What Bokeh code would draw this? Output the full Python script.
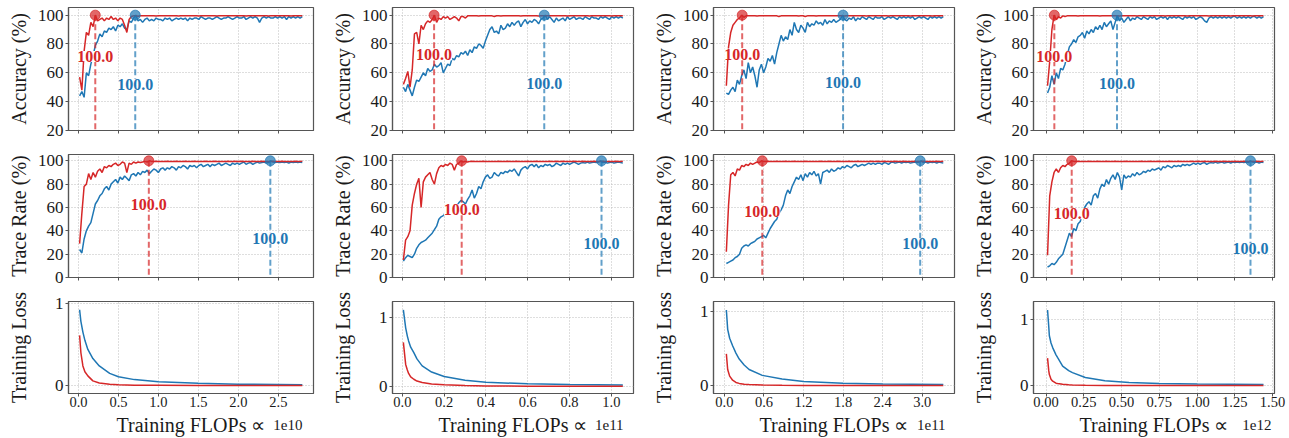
import numpy as np
from bokeh.plotting import figure
from bokeh.layouts import gridplot
from bokeh.models import Label, FixedTicker, Range1d, CustomJSTickFormatter
from bokeh.core.properties import value
from bokeh.embed import file_html
from bokeh.resources import INLINE

# ---------------------------------------------------------------- data
# evaluation grid (training FLOPs, in units of the column's exponent)
flops_start = [0.014, 0.005, 0.03, 0.01]
flops_end = [2.80, 1.055, 3.32, 1.44]
flops_exponent = ["1e10", "1e11", "1e11", "1e12"]
x_ticks = [[0, 0.5, 1.0, 1.5, 2.0, 2.5],
           [0, 0.2, 0.4, 0.6, 0.8, 1.0],
           [0, 0.6, 1.2, 1.8, 2.4, 3.0],
           [0, 0.25, 0.5, 0.75, 1.0, 1.25, 1.5]]
x_tick_decimals = [1, 1, 1, 2]
acc_ticks = [20, 40, 60, 80, 100]
trace_ticks = [0, 20, 40, 60, 80, 100]
loss_ticks = [0, 1]
row_titles = ["Accuracy (%)", "Trace Rate (%)", "Training Loss"]
x_title = "Training FLOPs \u221d"

# ---- accuracy (%)
acc_red_1 = [57, 48, 75, 88, 86, 95, 92, 100, 96, 97,
             98, 96, 98, 97, 99, 97, 98, 96, 98, 97,
             93, 88, 97, 99, 99.5, 99.5, 99.3, 99.5, 99.6, 99.5,
             99.5, 99.6, 99.5, 99.5, 99.4, 99.5, 99.6, 99.5, 99.5, 99.5,
             99.5, 99.5, 99.6, 99.5, 99.4, 99.5, 99.5, 99.6, 99.5, 99.5,
             99.6, 99.5, 99.5, 99.4, 99.5, 99.6, 99.5, 99.5, 99.5, 99.6,
             99.5, 99.4, 99.5, 99.6, 99.5, 99.5, 99.5, 99.6, 99.5, 99.5,
             99.5, 99.6, 99.5, 99.5, 99.4, 99.5, 99.6, 99.5, 99.5, 99.5,
             99.6, 99.5, 99.5, 99.5, 99.4, 99.5, 99.6, 99.5, 99.5, 99.6,
             99.5, 99.5, 99.6, 99.5, 99.4, 99.5, 99.5, 99.6, 99.5, 99.5]
acc_blue_1 = [44, 47, 43, 60, 58, 66, 72, 79, 82, 87,
              85, 89, 88, 91, 90, 92, 89, 93, 92, 94,
              91, 90, 96, 95, 98, 100, 96, 97, 95, 97,
              98, 96, 97, 96, 98, 97, 97, 96, 98, 97,
              98, 96, 97, 98, 97, 98, 97, 98, 96, 98,
              97, 98, 98, 97, 99, 98, 97, 98, 98, 97,
              98, 99, 98, 97, 98, 98, 99, 98, 97, 98,
              99, 98, 98, 99, 97, 98, 99, 98, 99, 98,
              95, 98, 99, 98, 99, 98, 98, 99, 98, 99,
              98, 99, 97, 99, 98, 99, 98, 99, 98, 99]
acc_red_2 = [52, 56, 61, 50, 62, 87, 88, 80, 93, 90,
             94, 96, 95, 97, 100, 95, 98, 97, 99, 98,
             99, 97, 98, 99, 98, 96, 99, 99, 98, 99.5,
             99.5, 99.6, 99.5, 99.5, 99.4, 99.5, 99.6, 99.5, 99.5, 99.5,
             99.5, 99.0, 99.6, 99.5, 99.4, 99.5, 99.5, 99.6, 99.5, 99.5,
             99.6, 99.5, 99.5, 99.4, 99.5, 99.6, 99.5, 99.5, 99.5, 99.6,
             99.5, 99.4, 99.5, 99.6, 99.5, 99.5, 99.5, 99.6, 99.5, 99.5,
             99.5, 99.6, 99.5, 99.5, 99.4, 99.5, 99.6, 99.5, 99.5, 99.5,
             99.6, 99.5, 99.5, 99.5, 99.4, 99.5, 99.6, 99.5, 99.5, 99.6,
             99.5, 99.5, 99.6, 99.5, 99.4, 99.5, 99.5, 99.6, 99.5, 99.5]
acc_blue_2 = [50, 47, 52, 48, 44, 50, 55, 54, 57, 60,
              58, 63, 61, 62, 66, 64, 65, 67, 60, 63,
              66, 65, 70, 69, 72, 71, 74, 73, 75, 72,
              76, 74, 78, 77, 80, 79, 77, 82, 86, 90,
              92, 88, 89, 87, 93, 90, 91, 94, 92, 95,
              93, 95, 96, 92, 95, 97, 94, 96, 95, 97,
              96, 94, 97, 98, 100, 97, 99, 97, 95, 98,
              96, 97, 98, 96, 99, 97, 98, 99, 97, 98,
              98, 97, 99, 98, 97, 99, 98, 98, 97, 99,
              98, 99, 98, 97, 99, 98, 99, 98, 99, 98]
acc_red_3 = [51, 78, 88, 93, 95, 97, 98, 100, 98.5, 99.5,
             99.5, 99.6, 99.5, 99.5, 99.4, 99.5, 99.6, 99.5, 99.5, 99.5,
             99.5, 99.5, 99.6, 99.5, 99.0, 99.5, 99.5, 99.6, 99.5, 99.5,
             99.6, 99.5, 99.5, 99.4, 99.5, 99.6, 99.0, 99.5, 99.5, 99.6,
             99.5, 99.4, 99.5, 99.6, 99.5, 99.5, 99.5, 99.6, 99.5, 99.5,
             99.5, 99.6, 99.5, 99.5, 99.4, 99.5, 99.6, 99.5, 99.5, 99.5,
             99.6, 99.5, 99.5, 99.5, 99.4, 99.5, 99.6, 99.5, 99.5, 99.6,
             99.5, 99.5, 99.6, 99.5, 99.4, 99.5, 99.5, 99.6, 99.5, 99.5,
             99.5, 99.6, 99.5, 99.5, 99.4, 99.5, 99.6, 99.5, 99.5, 99.5,
             99.6, 99.5, 99.5, 99.5, 99.4, 99.5, 99.6, 99.5, 99.5, 99.6]
acc_blue_3 = [46, 45, 48, 50, 47, 55, 52, 58, 62, 56,
              67, 60, 64, 58, 50, 62, 66, 60, 64, 70,
              68, 72, 66, 74, 80, 86, 82, 85, 83, 90,
              86, 95, 90, 88, 93, 91, 88, 95, 92, 94,
              93, 96, 94, 95, 93, 97, 94, 96, 95, 97,
              95, 96, 97, 100, 97, 96, 98, 97, 99, 96,
              98, 97, 99, 98, 97, 99, 98, 97, 99, 98,
              98, 99, 97, 98, 99, 98, 99, 98, 97, 99,
              98, 99, 98, 99, 98, 99, 97, 98, 99, 98,
              99, 98, 97, 99, 98, 99, 98, 99, 98, 99]
acc_red_4 = [51, 68, 90, 100, 97, 99, 98, 99.5, 99, 99.5,
             99.5, 99.6, 99.5, 99.5, 99.4, 99.5, 99.6, 99.5, 99.5, 99.5,
             99.5, 99.5, 99.6, 99.5, 99.4, 99.5, 99.5, 99.6, 99.5, 99.5,
             99.6, 99.5, 99.5, 99.4, 99.5, 99.6, 99.5, 99.5, 99.5, 99.6,
             99.5, 99.4, 99.5, 99.6, 99.5, 99.5, 99.5, 99.6, 99.5, 99.5,
             99.5, 99.6, 99.5, 99.5, 99.4, 99.5, 99.6, 99.5, 99.5, 99.5,
             99.6, 99.5, 99.5, 99.5, 99.4, 99.5, 99.6, 99.5, 99.5, 99.6,
             99.5, 99.5, 99.6, 99.5, 99.4, 99.5, 99.5, 99.6, 99.5, 99.5,
             99.5, 99.6, 99.5, 99.5, 99.4, 99.5, 99.6, 99.5, 99.5, 99.5,
             99.6, 99.5, 99.5, 99.5, 99.4, 99.5, 99.6, 99.5, 99.5, 99.6]
acc_blue_4 = [46, 50, 58, 52, 60, 56, 63, 62, 66, 72,
              78, 80, 83, 81, 85, 86, 88, 84, 89, 87,
              90, 88, 92, 90, 93, 90, 95, 92, 94, 96,
              90, 95, 100, 96, 98, 95, 97, 99, 96, 98,
              97, 99, 98, 97, 99, 98, 97, 99, 98, 99,
              97, 98, 99, 98, 99, 97, 99, 98, 99, 98,
              99, 98, 97, 99, 98, 99, 98, 99, 97, 98,
              99, 98, 96, 95, 98, 99, 98, 99, 98, 99,
              98, 99, 98, 99, 98, 99, 99, 98, 99, 98,
              99, 98, 99, 98, 99, 99, 98, 99, 98, 99]

# ---- trace rate (%)
trace_red_1 = [29, 55, 78, 80, 89, 84, 90, 86, 91, 93,
               90, 95, 94, 96, 95, 97, 98, 96, 97, 99,
               98, 90, 98, 97, 99, 98, 99, 98.5, 99, 99.5,
               99, 100, 99.5, 99.5, 99.6, 99.5, 99.4, 99.5, 99.5, 99.6,
               99.5, 99.4, 99.5, 99.6, 99.5, 99.5, 99.5, 99.6, 99.5, 99.5,
               99.5, 99.6, 99.5, 99.5, 99.4, 99.5, 99.6, 99.5, 99.5, 99.5,
               99.6, 99.5, 99.5, 99.5, 99.4, 99.5, 99.6, 99.5, 99.5, 99.6,
               99.5, 99.5, 99.6, 99.5, 99.4, 99.5, 99.5, 99.6, 99.5, 99.5,
               99.5, 99.6, 99.5, 99.5, 99.4, 99.5, 99.6, 99.5, 99.5, 99.5,
               99.6, 99.5, 99.5, 99.5, 99.4, 99.5, 99.6, 99.5, 99.5, 99.6]
trace_blue_1 = [24, 21, 33, 40, 44, 47, 55, 63, 66, 70,
                72, 76, 78, 75, 80, 82, 84, 81, 86, 84,
                87, 85, 83, 88, 89, 87, 90, 88, 91, 90,
                92, 89, 91, 93, 92, 90, 93, 94, 92, 94,
                93, 95, 94, 92, 95, 94, 96, 95, 93, 96,
                95, 96, 94, 96, 97, 95, 96, 97, 95, 97,
                96, 97, 98, 96, 97, 98, 97, 96, 98, 97,
                98, 97, 98, 99, 97, 98, 98.5, 97, 98, 99,
                98, 98.5, 99, 98, 98.5, 100, 99, 98.5, 99, 98.5,
                99, 98.5, 99, 98, 99, 98.5, 99, 98.5, 99, 98.5]
trace_red_2 = [15, 32, 35, 40, 62, 72, 80, 85, 60, 82,
               86, 88, 90, 84, 80, 89, 94, 96, 95, 97,
               96, 98, 97, 92, 97, 98, 100, 99, 99.5, 99,
               99.5, 99.6, 99.5, 99.5, 99.4, 99.5, 99.6, 99.5, 99.5, 99.5,
               99.5, 99.4, 99.5, 99.6, 99.5, 99.5, 99.5, 99.6, 99.5, 99.5,
               99.5, 99.6, 99.5, 99.5, 99.4, 99.5, 99.6, 99.5, 99.5, 99.5,
               99.6, 99.5, 99.5, 99.5, 99.4, 99.5, 99.6, 99.5, 99.5, 99.6,
               99.5, 99.5, 99.6, 99.5, 99.4, 99.5, 99.5, 99.6, 99.5, 99.5,
               99.5, 99.6, 99.5, 99.5, 99.4, 99.5, 99.6, 99.5, 99.5, 99.5,
               99.6, 99.5, 99.5, 99.5, 99.4, 99.5, 99.6, 99.5, 99.5, 99.6]
trace_blue_2 = [14, 17, 19, 18, 17, 20, 25, 28, 30, 31,
                32, 34, 36, 38, 41, 44, 50, 52, 53, 56,
                57, 59, 60, 62, 61, 64, 66, 65, 63, 67,
                70, 75, 68, 72, 78, 76, 82, 86, 88, 85,
                86, 90, 88, 87, 90, 89, 91, 90, 92, 91,
                93, 90, 87, 92, 94, 95, 93, 96, 97, 95,
                97, 94, 96, 95, 97, 96, 97, 95, 96, 98,
                97, 96, 98, 97, 98, 97, 98, 99, 98, 97,
                98, 98.5, 98, 99, 98, 98.5, 99, 98.5, 99, 100,
                98.5, 99, 98, 98.5, 99, 98, 98.5, 99, 98.5, 98]
trace_red_3 = [22, 62, 88, 90, 87, 93, 92, 96, 95, 97,
               96, 98, 97, 98, 99, 98.5, 100, 99.5, 99.5, 99.6,
               99.5, 99.4, 99.5, 99.6, 99.5, 99.5, 99.5, 99.6, 99.5, 99.5,
               99.5, 99.6, 99.5, 99.5, 99.4, 99.5, 99.6, 99.5, 99.5, 99.5,
               99.5, 99.4, 99.5, 99.6, 99.5, 99.5, 99.5, 99.6, 99.5, 99.5,
               99.5, 99.6, 99.5, 99.5, 99.4, 99.5, 99.6, 99.5, 99.5, 99.5,
               99.6, 99.5, 99.5, 99.5, 99.4, 99.5, 99.6, 99.5, 99.5, 99.6,
               99.5, 99.5, 99.6, 99.5, 99.4, 99.5, 99.5, 99.6, 99.5, 99.5,
               99.5, 99.6, 99.5, 99.5, 99.4, 99.5, 99.6, 99.5, 99.5, 99.5,
               99.6, 99.5, 99.5, 99.5, 99.4, 99.5, 99.6, 99.5, 99.5, 99.6]
trace_blue_3 = [12, 13, 14, 15, 17, 18, 20, 25, 27, 28,
                27, 29, 30, 31, 33, 34, 35, 36, 34, 38,
                42, 45, 48, 50, 55, 58, 62, 70, 75, 72,
                78, 82, 86, 84, 88, 83, 89, 86, 90, 88,
                91, 87, 89, 80, 90, 91, 92, 90, 93, 91,
                92, 94, 93, 95, 94, 96, 95, 94, 96, 97,
                95, 96, 97, 96, 97, 98, 97, 98, 97, 98,
                98, 97, 98.5, 98, 97, 98.5, 99, 98, 98.5, 99,
                98, 99, 98.5, 99, 98, 98.5, 99, 98.5, 99, 100,
                98.5, 99, 98, 99, 98.5, 99, 98, 99, 98.5, 98]
trace_red_4 = [19, 70, 82, 90, 93, 90, 94, 96, 95, 97,
               98, 100, 99.5, 99.5, 99.6, 99.5, 99.4, 99.5, 99.5, 99.6,
               99.5, 99.4, 99.5, 99.6, 99.5, 99.5, 99.5, 99.6, 99.5, 99.5,
               99.5, 99.6, 99.5, 99.5, 99.4, 99.5, 99.6, 99.5, 99.5, 99.5,
               99.5, 99.4, 99.5, 99.6, 99.5, 99.5, 99.5, 99.6, 99.5, 99.5,
               99.5, 99.6, 99.5, 99.5, 99.4, 99.5, 99.6, 99.5, 99.5, 99.5,
               99.6, 99.5, 99.5, 99.5, 99.4, 99.5, 99.6, 99.5, 99.5, 99.6,
               99.5, 99.5, 99.6, 99.5, 99.4, 99.5, 99.5, 99.6, 99.5, 99.5,
               99.5, 99.6, 99.5, 99.5, 99.4, 99.5, 99.6, 99.5, 99.5, 99.5,
               99.6, 99.5, 99.5, 99.5, 99.4, 99.5, 99.6, 99.5, 99.5, 99.6]
trace_blue_4 = [9, 10, 12, 11, 13, 16, 18, 20, 26, 32,
                38, 35, 42, 40, 46, 48, 55, 60, 63, 65,
                62, 70, 72, 68, 76, 80, 78, 84, 80, 85,
                88, 84, 90, 86, 75, 88, 85, 87, 86, 89,
                87, 90, 88, 89, 91, 90, 92, 91, 93, 92,
                93, 94, 92, 95, 94, 96, 95, 94, 96, 95,
                96, 95, 97, 96, 97, 96, 97, 98, 97, 98,
                97, 98, 98.5, 97, 98, 98.5, 98, 99, 98, 98.5,
                99, 98, 98.5, 99, 98, 99, 98.5, 99, 98.5, 99,
                98.5, 99, 98.5, 100, 99, 98.5, 99, 98, 99, 98.5]

# ---- training loss (sampled along the smooth curves)
loss_x_1 = [0.014, 0.03, 0.055, 0.08, 0.117, 0.18, 0.26, 0.39, 0.5, 0.7, 1.0, 1.5, 2.0, 2.8]
loss_blue_1 = [0.92, 0.78, 0.65, 0.55, 0.44, 0.33, 0.24, 0.15, 0.11, 0.075, 0.05, 0.03, 0.02, 0.012]
loss_red_1 = [0.61, 0.40, 0.24, 0.17, 0.12, 0.06, 0.035, 0.02, 0.012, 0.008, 0.006, 0.004, 0.003, 0.003]
loss_x_2 = [0.005, 0.016, 0.024, 0.03, 0.04, 0.055, 0.07, 0.095, 0.14, 0.2, 0.3, 0.4, 0.6, 0.8, 1.055]
loss_blue_2 = [1.11, 0.85, 0.73, 0.66, 0.57, 0.49, 0.40, 0.30, 0.21, 0.145, 0.09, 0.063, 0.04, 0.03, 0.022]
loss_red_2 = [0.64, 0.32, 0.24, 0.19, 0.14, 0.106, 0.08, 0.058, 0.036, 0.025, 0.015, 0.01, 0.006, 0.005, 0.004]
loss_x_3 = [0.03, 0.05, 0.08, 0.125, 0.175, 0.225, 0.3, 0.375, 0.575, 0.875, 1.2, 1.8, 2.4, 3.32]
loss_blue_3 = [1.02, 0.76, 0.64, 0.54, 0.44, 0.36, 0.28, 0.22, 0.14, 0.09, 0.058, 0.035, 0.025, 0.016]
loss_red_3 = [0.43, 0.22, 0.13, 0.075, 0.045, 0.032, 0.022, 0.018, 0.01, 0.006, 0.004, 0.003, 0.003, 0.003]
loss_x_4 = [0.01, 0.018, 0.022, 0.033, 0.044, 0.066, 0.076, 0.11, 0.15, 0.175, 0.26, 0.39, 0.55, 0.75, 1.0, 1.44]
loss_blue_4 = [1.15, 0.90, 0.76, 0.65, 0.58, 0.47, 0.43, 0.30, 0.23, 0.20, 0.126, 0.076, 0.05, 0.035, 0.027, 0.018]
loss_red_4 = [0.42, 0.23, 0.17, 0.10, 0.07, 0.04, 0.034, 0.022, 0.015, 0.012, 0.008, 0.005, 0.004, 0.003, 0.003, 0.003]

# ---- FLOPs at which each run first reaches 100 %
reach_value = 100.0
reach_acc_red = [0.21, 0.152, 0.27, 0.055]
reach_acc_blue = [0.71, 0.679, 1.80, 0.47]
reach_trace_red = [0.88, 0.284, 0.575, 0.17]
reach_trace_blue = [2.40, 0.953, 2.97, 1.354]

# ---------------------------------------------------------------- layout / style
RED = "#d62728"
BLUE = "#1f77b4"
INK = "#1a1a1a"
FRAME = "#555555"
SERIF = "Liberation Serif"

x_ranges = [(-0.125, 2.94), (-0.047, 1.106), (-0.165, 3.49), (-0.083, 1.513)]
acc_range = (20, 105.3)
trace_range = (0, 105.4)
loss_ranges = [(-0.093, 1.02), (-0.10, 1.23), (-0.104, 1.135), (-0.117, 1.28)]

col_width = [328, 321, 320, 318]
col_left = [68, 62, 62, 62]
col_right = [15, 16, 15, 13]
row_height = [142, 147, 123]
row_top = [7, 12, 12]
row_bottom = [12, 12, 19]
strip_height = 25

# label heights (in data units) of the "100.0" annotations
acc_label_y_red = [71.4, 72.6, 73.0, 71.4]
acc_label_y_blue = [52.0, 52.6, 53.0, 52.8]
trace_label_y_red = [62.3, 58.0, 56.6, 54.6]
trace_label_y_blue = [33.7, 29.4, 28.9, 24.6]
exp_offset_px = [11, 10, 9, 3]

acc_red = [acc_red_1, acc_red_2, acc_red_3, acc_red_4]
acc_blue = [acc_blue_1, acc_blue_2, acc_blue_3, acc_blue_4]
trace_red = [trace_red_1, trace_red_2, trace_red_3, trace_red_4]
trace_blue = [trace_blue_1, trace_blue_2, trace_blue_3, trace_blue_4]
loss_x = [loss_x_1, loss_x_2, loss_x_3, loss_x_4]
loss_red = [loss_red_1, loss_red_2, loss_red_3, loss_red_4]
loss_blue = [loss_blue_1, loss_blue_2, loss_blue_3, loss_blue_4]


def grid_x(c, values):
    return np.linspace(flops_start[c], flops_end[c], len(values))


def make_panel(c, r):
    x0, x1 = x_ranges[c]
    if r == 0:
        y0, y1 = acc_range
        yt = acc_ticks
    elif r == 1:
        y0, y1 = trace_range
        yt = trace_ticks
    else:
        y0, y1 = loss_ranges[c]
        yt = loss_ticks
    p = figure(width=col_width[c], height=row_height[r],
               x_range=Range1d(x0, x1), y_range=Range1d(y0, y1),
               output_backend="svg", toolbar_location=None, tools="",
               min_border_left=col_left[c], min_border_right=col_right[c],
               min_border_top=row_top[r], min_border_bottom=row_bottom[r])
    p.background_fill_color = "white"
    p.border_fill_color = "white"
    p.outline_line_color = FRAME
    p.outline_line_width = 1.2

    xtk = FixedTicker(ticks=x_ticks[c])
    ytk = FixedTicker(ticks=yt)
    p.xaxis.ticker = xtk
    p.xgrid.ticker = xtk
    p.yaxis.ticker = ytk
    p.ygrid.ticker = ytk
    p.xaxis.formatter = CustomJSTickFormatter(code="return tick.toFixed(%d);" % x_tick_decimals[c])
    p.grid.grid_line_color = "#bdbdbd"
    p.grid.grid_line_dash = "1 2"
    p.grid.grid_line_width = 1

    for ax in (p.xaxis[0], p.yaxis[0]):
        ax.axis_line_color = FRAME
        ax.axis_line_width = 1.2
        ax.major_tick_line_color = FRAME
        ax.major_tick_out = 3
        ax.major_tick_in = 0
        ax.minor_tick_out = 0
        ax.minor_tick_in = 0
        ax.major_label_text_font = SERIF
        ax.major_label_text_color = INK
        ax.axis_label_text_font = SERIF
        ax.axis_label_text_font_style = "normal"
        ax.axis_label_text_color = INK

    p.yaxis.major_label_text_font_size = "17px"
    p.yaxis.major_label_standoff = 2
    p.yaxis.axis_label = row_titles[r]
    p.yaxis.axis_label_text_font_size = "20px"
    p.yaxis.axis_label_standoff = 5 if r < 2 else 22

    p.xaxis.major_label_standoff = 0
    if r < 2:
        # tick marks only, as in the reference
        p.xaxis.major_label_text_font_size = "1px"
        p.xaxis.major_label_text_color = None
    else:
        p.xaxis.major_label_text_font_size = "14.5px"

    if r < 2:
        red = acc_red[c] if r == 0 else trace_red[c]
        blue = acc_blue[c] if r == 0 else trace_blue[c]
        rr = reach_acc_red[c] if r == 0 else reach_trace_red[c]
        rb = reach_acc_blue[c] if r == 0 else reach_trace_blue[c]
        ly_r = acc_label_y_red[c] if r == 0 else trace_label_y_red[c]
        ly_b = acc_label_y_blue[c] if r == 0 else trace_label_y_blue[c]
        p.line(grid_x(c, blue), blue, line_color=BLUE, line_width=1.5)
        p.line(grid_x(c, red), red, line_color=RED, line_width=1.5)
        for rx, col, ly in ((rr, RED, ly_r), (rb, BLUE, ly_b)):
            p.segment(x0=[rx], y0=[reach_value], x1=[rx], y1=[y0],
                      line_color=col, line_dash="6 3", line_width=2, line_alpha=0.7)
            p.scatter([rx], [reach_value], size=10, fill_color=col, line_color=col,
                      fill_alpha=0.7, line_alpha=0.7)
            p.add_layout(Label(x=rx, y=ly, text=f"{reach_value:.1f}",
                               text_align="center", text_baseline="middle",
                               text_font=SERIF, text_font_style="bold",
                               text_font_size="16px", text_color=col,
                               background_fill_color="white",
                               background_fill_alpha=1.0))
    else:
        p.line(loss_x[c], loss_blue[c], line_color=BLUE, line_width=1.5)
        p.line(loss_x[c], loss_red[c], line_color=RED, line_width=1.5)
    return p


def make_xlabel_strip(c):
    x0, x1 = x_ranges[c]
    p = figure(width=col_width[c], height=strip_height,
               x_range=Range1d(x0, x1), y_range=Range1d(0, 1),
               output_backend="svg", toolbar_location=None, tools="",
               x_axis_location=None, y_axis_location=None,
               min_border_left=col_left[c], min_border_right=col_right[c],
               min_border_top=0, min_border_bottom=0)
    p.outline_line_color = None
    p.grid.visible = False
    p.background_fill_color = "white"
    p.border_fill_color = "white"
    p.text(x=[(x0 + x1) / 2], y=[0.5], text=[x_title], text_align="center",
           text_baseline="middle", text_font=value(SERIF),
           text_font_size=value("20px"), text_color=INK)
    fw = col_width[c] - col_left[c] - col_right[c]
    ex = x1 - exp_offset_px[c] * (x1 - x0) / fw
    p.text(x=[ex], y=[0.5], text=[flops_exponent[c]], text_align="right",
           text_baseline="middle", text_font=value(SERIF),
           text_font_size=value("15px"), text_color=INK)
    return p


rows = [[make_panel(c, r) for c in range(4)] for r in range(3)]
rows.append([make_xlabel_strip(c) for c in range(4)])
grid = gridplot(rows, toolbar_location=None)

open("out.html", "w").write(file_html(grid, INLINE))
